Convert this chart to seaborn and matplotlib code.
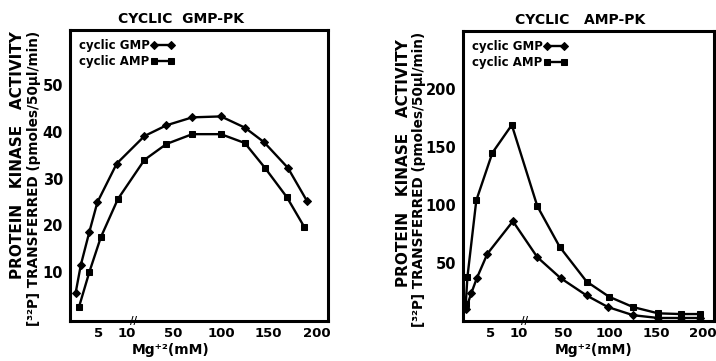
import numpy as np
import seaborn as sns
import matplotlib.pyplot as plt

# left panel: cyclic GMP-dependent protein kinase
gpk_mg_gmp = [1.0, 1.9, 3.4, 4.8, 8.2, 20, 43, 70, 100, 125, 145, 170, 190]
gpk_act_gmp = [5.6, 11.5, 18.6, 24.9, 33.2, 39.1, 41.4, 43.1, 43.3, 40.9, 37.8, 32.3, 25.2]
gpk_mg_amp = [1.6, 3.4, 5.4, 8.4, 20, 43, 70, 100, 125, 146, 169, 187]
gpk_act_amp = [2.6, 10.0, 17.4, 25.6, 34.0, 37.4, 39.5, 39.5, 37.6, 32.3, 26.0, 19.7]

# right panel: cyclic AMP-dependent protein kinase
apk_mg_amp = [0.5, 0.8, 2.4, 5.3, 8.8, 22, 46, 75, 99, 125, 152, 176, 197]
apk_act_amp = [15, 38, 104, 145, 169, 99, 64, 34, 21, 12, 6.6, 6, 6]
apk_mg_gmp = [0.5, 1.5, 2.5, 4.4, 9, 22, 47, 75, 98, 125, 152, 176, 197]
apk_act_gmp = [10, 24, 37, 58, 86, 55, 37, 22, 12, 5, 2.6, 2.6, 2.6]

x_major = [5, 10, 50, 100, 150, 200]
x_minor = [25, 75, 125, 175]
x_labels = ['5', '10', '50', '100', '150', '200']

# broken x axis: 0-10 mM stretched, then linear from the break on
brk_mm = [0, 10, 15, 250]
brk_pos = [0, 57, 69.7, 69.7 + 235 * 0.956]


def fwd(x):
    return np.interp(x, brk_mm, brk_pos)


def inv(p):
    return np.interp(p, brk_pos, brk_mm)


sns.set_style('white')
plt.rcParams['font.family'] = ['DejaVu Sans']
plt.rcParams['font.weight'] = 'bold'
for key in ['text.color', 'axes.labelcolor', 'xtick.color', 'ytick.color']:
    plt.rcParams[key] = 'black'

fig = plt.figure(figsize=(7.16, 3.61), dpi=100)
ax1 = fig.add_axes([70 / 716, 40 / 361, 258 / 716, 291 / 361])
ax2 = fig.add_axes([463 / 716, 40 / 361, 251 / 716, 290 / 361])


def draw_panel(ax, x_gmp, y_gmp, x_amp, y_amp, yticks, ylim, title, tx, xl_x):
    sns.lineplot(x=x_gmp, y=y_gmp, ax=ax, color='k', marker='D', markersize=4.5,
                 markeredgecolor='k', linewidth=1.7, label='cyclic GMP')
    sns.lineplot(x=x_amp, y=y_amp, ax=ax, color='k', marker='s', markersize=4.5,
                 markeredgecolor='k', linewidth=1.7, label='cyclic AMP')
    ax.set_xscale('function', functions=(fwd, inv))
    ax.set_xlim(0, 212)
    ax.set_ylim(*ylim)
    ax.set_xticks(x_major)
    ax.set_xticklabels(x_labels)
    ax.set_xticks(x_minor, minor=True)
    ax.set_yticks(yticks)
    ax.tick_params(axis='x', which='both', direction='in', length=4, width=1.4,
                   labelsize=9.5, pad=4)
    ax.tick_params(axis='y', direction='out', length=4, width=1.4, labelsize=10.5, pad=1)
    for s in ax.spines.values():
        s.set_linewidth(2.2)
        s.set_color('k')
    ax.set_xlabel('Mg⁺²(mM)', fontsize=10, fontweight='bold')
    ax.xaxis.set_label_coords(xl_x, -0.075)
    ax.set_ylabel('')
    ax.set_title(title, fontsize=10, fontweight='bold', x=tx, pad=5)
    # break mark on the x axis
    ax.text(12.5, 0, '//', transform=ax.get_xaxis_transform(), ha='center',
            va='center', fontsize=7, fontweight='bold')
    ax.legend(loc='upper left', bbox_to_anchor=(0.0, 1.0), frameon=False,
              markerfirst=False, numpoints=2, handlelength=2.0, handletextpad=0.1,
              labelspacing=0.25, borderaxespad=0.35, prop={'size': 8.5, 'weight': 'bold'})


draw_panel(ax1, gpk_mg_gmp, gpk_act_gmp, gpk_mg_amp, gpk_act_amp,
           [10, 20, 30, 40, 50], (-0.5, 61.8), 'CYCLIC  GMP-PK', 0.43, 0.39)
draw_panel(ax2, apk_mg_gmp, apk_act_gmp, apk_mg_amp, apk_act_amp,
           [50, 100, 150, 200], (0, 250), 'CYCLIC   AMP-PK', 0.466, 0.52)

ylab1 = 'PROTEIN   KINASE   ACTIVITY'
ylab2 = '[³²P] TRANSFERRED (pmoles/50µl/min)'
fig.text(18 / 716, 1 - 155 / 361, ylab1, rotation=90, ha='center', va='center',
         fontsize=11, fontweight='bold')
fig.text(34 / 716, 1 - 178 / 361, ylab2, rotation=90, ha='center', va='center',
         fontsize=9.8, fontweight='bold')
fig.text(403 / 716, 1 - 163 / 361, ylab1, rotation=90, ha='center', va='center',
         fontsize=11, fontweight='bold')
fig.text(419 / 716, 1 - 179 / 361, ylab2, rotation=90, ha='center', va='center',
         fontsize=9.8, fontweight='bold')

fig.savefig('out.png', dpi=100)
